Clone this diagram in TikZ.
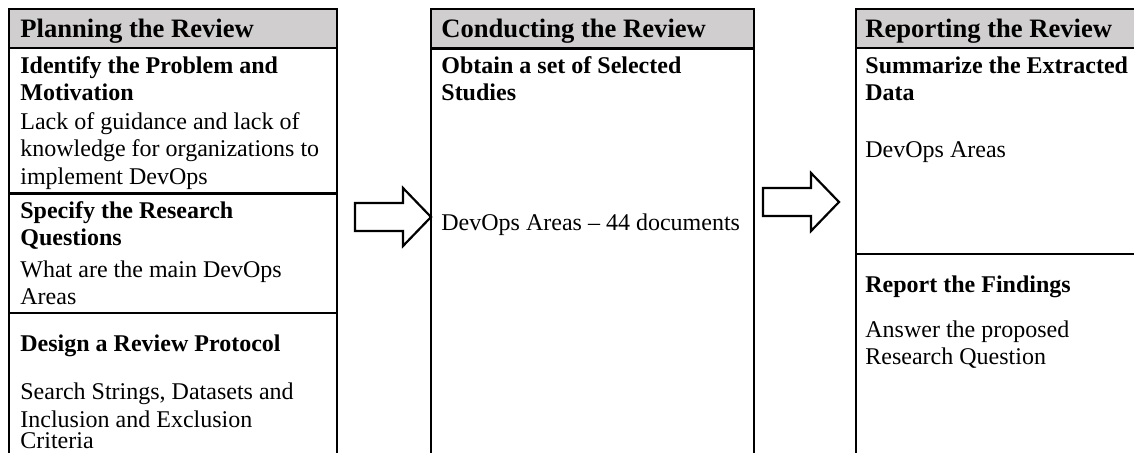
\documentclass[tikz,border=0pt]{standalone}
\usepackage{fontspec}
\setmainfont{Liberation Serif}
\definecolor{hdrgray}{RGB}{208,206,206}
\tikzset{
  frame/.style={line width=1.4pt, line join=miter, line cap=rect},
  hdrtext/.style={anchor=base west, inner sep=0pt, font=\fontsize{13.3pt}{15pt}\selectfont\bfseries},
  ttl/.style={anchor=base west, inner sep=0pt, align=left, font=\fontsize{12pt}{13.8pt}\selectfont\bfseries},
  body/.style={anchor=base west, inner sep=0pt, align=left, font=\fontsize{12pt}{13.8pt}\selectfont},
  blockarrow/.style={draw, line width=1.1pt, fill=white, line join=miter},
  pics/blockarr/.style={code={
    \draw[blockarrow] (0,0) -- (48,0) -- (48,-15) -- (76,14) -- (48,43) -- (48,28) -- (0,28) -- cycle;}}
}
\begin{document}
\begin{tikzpicture}[x=0.5pt,y=-0.5pt]
\useasboundingbox (0,0) rectangle (1134,452);
\clip (0,0) rectangle (1134,452);

% multi-line nodes are placed at the baseline of their LAST line

% ---- column 1: Planning ----
\fill[hdrgray] (9,9) rectangle (337,48);
\draw[frame] (9,480) -- (9,9) -- (337,9) -- (337,480);
\draw[frame] (9,48) -- (337,48);
\draw[frame] (9,193.5) -- (337,193.5);
\draw[frame] (9,313) -- (337,313);

\node[hdrtext] (h1) at (20,37) {Planning the Review};
\node[ttl] (t11) at (20,100.6) {Identify the Problem and\\Motivation};
\node[body] (b11) at (20,184.2) {Lack of guidance and lack of\\knowledge for organizations to\\implement DevOps};
\node[ttl] (t12) at (20,245.6) {Specify the Research\\Questions};
\node[body] (b12) at (20,304.6) {What are the main DevOps\\Areas};
\node[ttl] (t13) at (20,351) {Design a Review Protocol};
\node[body] (b13) at (20,448.5) {Search Strings, Datasets and\\Inclusion and Exclusion\\[-3.3pt]Criteria};

% ---- column 2: Conducting ----
\fill[hdrgray] (431,9) rectangle (754,48.5);
\draw[frame] (431,480) -- (431,9) -- (754,9) -- (754,480);
\draw[frame] (431,48.5) -- (754,48.5);

\node[hdrtext] (h2) at (441,37) {Conducting the Review};
\node[ttl] (t21) at (441,100.6) {Obtain a set of Selected\\Studies};
\node[body] (b21) at (441,230) {DevOps Areas – 44 documents};

% ---- column 3: Reporting ----
\fill[hdrgray] (856,9) rectangle (1150,48);
\draw[frame] (856,480) -- (856,9) -- (1150,9);
\draw[frame] (856,48) -- (1150,48);
\draw[frame] (856,254) -- (1150,254);

\node[hdrtext] (h3) at (865,37) {Reporting the Review};
\node[ttl] (t31) at (865,100.6) {Summarize the Extracted\\Data};
\node[body] (b31) at (865,157) {DevOps Areas};
\node[ttl] (t32) at (865,292) {Report the Findings};
\node[body] (b32) at (865,364.6) {Answer the proposed\\Research Question};

% ---- block arrows ----
\coordinate (a1) at (355,203);
\coordinate (a2) at (763,188);
\pic at (a1) {blockarr};
\pic at (a2) {blockarr};
\end{tikzpicture}
\end{document}
